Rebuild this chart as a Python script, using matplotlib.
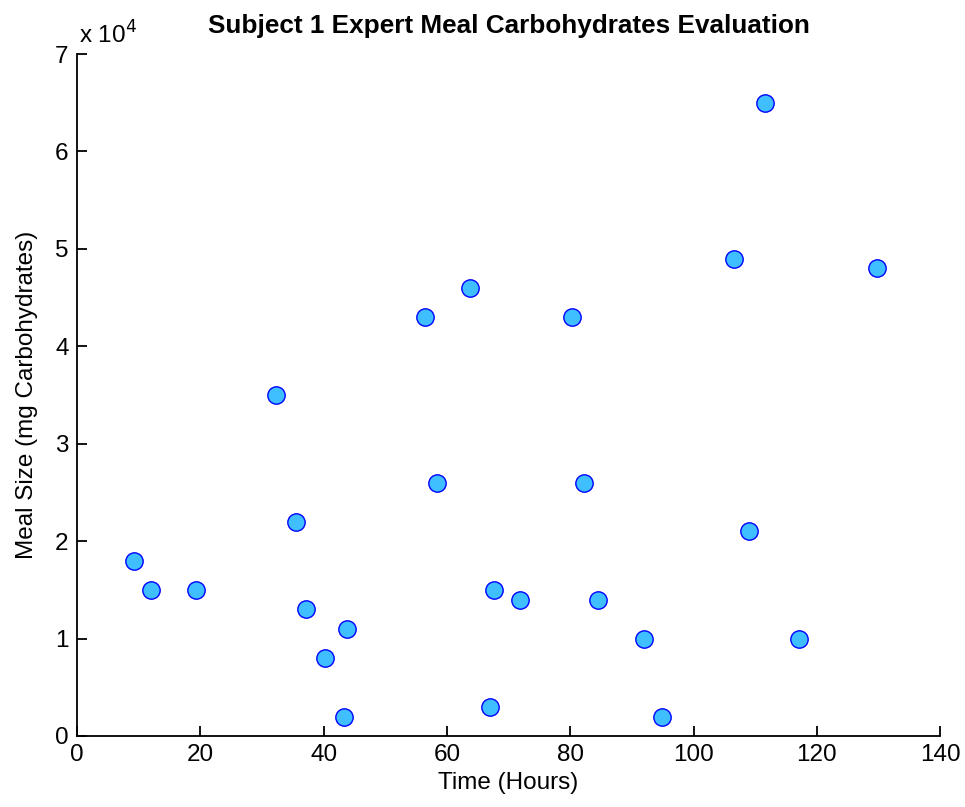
import numpy as np
import matplotlib
matplotlib.use('Agg')
import matplotlib.pyplot as plt
from matplotlib.ticker import FuncFormatter

# meal times (hours) and meal sizes (mg carbohydrates)
time_hours = [9.25, 12.0, 19.3, 32.3, 35.5, 37.15, 40.2, 43.8, 43.3, 56.5,
              58.4, 63.8, 67.0, 67.6, 71.9, 80.3, 82.3, 84.5, 92.0, 94.9,
              106.5, 109.0, 111.6, 117.1, 129.7]
meal_mg = [18000, 15000, 15000, 35000, 22000, 13000, 8000, 11000, 2000, 43000,
           26000, 46000, 3000, 15000, 14000, 43000, 26000, 14000, 10000, 2000,
           49000, 21000, 65000, 10000, 48000]

plt.rcParams['font.family'] = ['Liberation Sans', 'DejaVu Sans']

fig = plt.figure(figsize=(9.65, 8.07), dpi=100)
ax = fig.add_axes([0.0798, 0.088, 0.8945, 0.845])

ax.plot(time_hours, meal_mg, 'o', markersize=12.5, markerfacecolor='#3fbfff',
        markeredgecolor='#0000ff', markeredgewidth=1.0)

ax.set_xlim(0, 140)
ax.set_ylim(0, 70000)
ax.set_xticks(np.arange(0, 141, 20))
ax.set_yticks(np.arange(0, 70001, 10000))
ax.yaxis.set_major_formatter(FuncFormatter(lambda v, p: f'{v/1e4:g}'))

for s in ['top', 'right']:
    ax.spines[s].set_visible(False)
for s in ['left', 'bottom']:
    ax.spines[s].set_linewidth(1.3)
ax.tick_params(direction='in', length=7, width=1.3, labelsize=17.5, pad=6,
               colors='black')

ax.text(0.002, 1.008, 'x 10$^4$', transform=ax.transAxes, fontsize=17.5,
        ha='left', va='bottom')

ax.set_xlabel('Time (Hours)', fontsize=17.5, labelpad=4)
ax.set_ylabel('Meal Size (mg Carbohydrates)', fontsize=17.5, labelpad=12)
ax.set_title('Subject 1 Expert Meal Carbohydrates Evaluation',
             fontsize=18.8, fontweight='bold', pad=15)

fig.savefig('out.png', dpi=100)
